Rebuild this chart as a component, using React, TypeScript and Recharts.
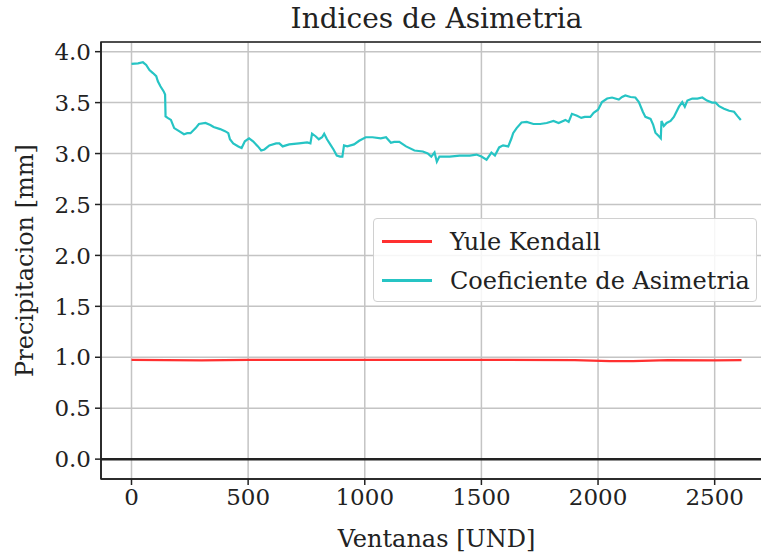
import {
  LineChart, Line, XAxis, YAxis, CartesianGrid, Legend,
  ReferenceLine, ReferenceArea,
} from 'recharts'

// Ventanas [UND] -> valores de cada indice
const coefX = [
  0, 28, 49, 63, 77, 92, 106, 113, 124, 138,
  144, 146, 155, 169, 183, 204, 225, 239, 253, 275,
  289, 317, 338, 352, 380, 401, 415, 422, 436, 458,
  472, 486, 504, 521, 542, 556, 570, 591, 620, 634,
  648, 676, 718, 753, 767, 774, 789, 803, 817, 826,
  838, 852, 866, 880, 894, 904, 911, 925, 954, 976,
  1004, 1033, 1069, 1091, 1112, 1126, 1148, 1177, 1213, 1249,
  1270, 1285, 1299, 1309, 1320, 1364, 1407, 1450, 1479, 1500,
  1522, 1543, 1558, 1576, 1593, 1615, 1629, 1636, 1651, 1672,
  1694, 1723, 1752, 1780, 1809, 1831, 1860, 1874, 1888, 1910,
  1928, 1943, 1967, 1981, 2000, 2017, 2039, 2060, 2074, 2089,
  2103, 2117, 2139, 2160, 2175, 2192, 2203, 2225, 2236, 2246,
  2261, 2269, 2272, 2282, 2294, 2311, 2325, 2347, 2361, 2372,
  2383, 2404, 2426, 2447, 2467, 2489, 2504, 2519, 2540, 2562,
  2583, 2597, 2612,
]
const coefY = [
  3.88, 3.886, 3.896, 3.87, 3.82, 3.79, 3.76, 3.71, 3.66, 3.61,
  3.58, 3.365, 3.35, 3.33, 3.25, 3.22, 3.19, 3.2, 3.2, 3.25,
  3.29, 3.3, 3.28, 3.26, 3.24, 3.22, 3.2, 3.14, 3.1, 3.07,
  3.055, 3.12, 3.15, 3.12, 3.07, 3.03, 3.04, 3.08, 3.1, 3.1,
  3.07, 3.09, 3.1, 3.11, 3.1, 3.195, 3.17, 3.14, 3.16, 3.195,
  3.14, 3.09, 3.04, 2.98, 2.97, 2.97, 3.08, 3.07, 3.09, 3.125,
  3.16, 3.16, 3.15, 3.16, 3.105, 3.115, 3.115, 3.07, 3.03, 3.02,
  3.0, 2.97, 3.01, 2.92, 2.97, 2.97, 2.98, 2.98, 2.99, 2.97,
  2.94, 3.01, 2.98, 3.06, 3.08, 3.07, 3.15, 3.2, 3.25, 3.305,
  3.31, 3.29, 3.29, 3.3, 3.32, 3.3, 3.33, 3.31, 3.39, 3.37,
  3.35, 3.36, 3.36, 3.4, 3.43, 3.505, 3.54, 3.55, 3.54, 3.53,
  3.555, 3.57, 3.555, 3.55, 3.505, 3.41, 3.36, 3.34, 3.285, 3.205,
  3.17, 3.15, 3.32, 3.27, 3.3, 3.32, 3.36, 3.46, 3.505, 3.46,
  3.52, 3.54, 3.54, 3.55, 3.52, 3.5, 3.5, 3.465, 3.44, 3.42,
  3.41, 3.37, 3.33,
]
const yuleX = [0, 300, 500, 1000, 1500, 1900, 2050, 2150, 2300, 2500, 2615]
const yuleY = [0.975, 0.97, 0.975, 0.975, 0.975, 0.972, 0.962, 0.962, 0.972, 0.97, 0.972]

const xTicks = [0, 500, 1000, 1500, 2000, 2500]
const yTicks = [0, 0.5, 1, 1.5, 2, 2.5, 3, 3.5, 4]
const seriesOrder = ['Yule Kendall', 'Coeficiente de Asimetria']

const FONT = '"DejaVu Serif", serif'
const RED = '#ff3030'
const CYAN = '#26c4c4'

const coefData = coefX.map((x, i) => ({ x, y: coefY[i] }))
const yuleData = yuleX.map((x, i) => ({ x, y: yuleY[i] }))

const X_DOMAIN: [number, number] = [-130.75, 2745.75]
const Y_DOMAIN: [number, number] = [-0.195, 4.095]

function LegendBox({ payload }: any) {
  const items = [...(payload || [])].sort(
    (a: any, b: any) => seriesOrder.indexOf(a.value) - seriesOrder.indexOf(b.value),
  )
  return (
    <div style={{
      width: 384, height: 84, boxSizing: 'border-box',
      border: '1px solid #d0d0d0', borderRadius: 4,
      backgroundColor: 'rgba(255,255,255,0.85)',
      fontFamily: FONT, fontSize: 24, color: '#222',
    }}>
      {items.map((p: any, i: number) => (
        <div key={i} style={{ display: 'flex', alignItems: 'center', height: 39, marginTop: i === 0 ? 3 : 0 }}>
          <div style={{ width: 50, height: 2.5, backgroundColor: p.color, marginLeft: 8, marginRight: 18 }} />
          <span>{p.value}</span>
        </div>
      ))}
    </div>
  )
}

function YLabel({ viewBox }: any) {
  const cx = viewBox.x + 25
  const cy = viewBox.y + viewBox.height / 2
  return (
    <text x={cx} y={cy} transform={`rotate(-90 ${cx} ${cy})`} textAnchor="middle"
      dominantBaseline="central" fontFamily={FONT} fontSize={24} fill="#222">
      Precipitacion [mm]
    </text>
  )
}

export default function App() {
  return (
    <div style={{ position: 'absolute', left: 0, top: 0, width: 761, height: 556, overflow: 'hidden', background: '#fff' }}>
      <div style={{
        position: 'absolute', left: 101, width: 671, top: 2, textAlign: 'center',
        fontFamily: FONT, fontSize: 28, color: '#222',
      }}>
        Indices de Asimetria
      </div>
      <LineChart width={790} height={556} margin={{ top: 42, right: 18, bottom: 0, left: 0 }}>
        <CartesianGrid stroke="#c4c4c4" strokeWidth={1.5} />
        <XAxis
          dataKey="x" type="number" domain={X_DOMAIN} ticks={xTicks} allowDataOverflow
          height={77} tickSize={6} tickMargin={4}
          axisLine={{ stroke: '#222', strokeWidth: 1.5 }}
          tickLine={{ stroke: '#222', strokeWidth: 1.5 }}
          tick={{ fontFamily: FONT, fontSize: 23, fill: '#222' }}
          label={{ value: 'Ventanas [UND]', position: 'insideBottom', offset: 9, fontFamily: FONT, fontSize: 24, fill: '#222' }}
        />
        <YAxis
          type="number" domain={Y_DOMAIN} ticks={yTicks} allowDataOverflow
          width={101} tickSize={6} tickMargin={4}
          tickFormatter={(v: number) => v.toFixed(1)}
          axisLine={{ stroke: '#222', strokeWidth: 1.5 }}
          tickLine={{ stroke: '#222', strokeWidth: 1.5 }}
          tick={{ fontFamily: FONT, fontSize: 23, fill: '#222' }}
          label={<YLabel />}
        />
        <ReferenceArea x1={X_DOMAIN[0]} x2={X_DOMAIN[1]} y1={Y_DOMAIN[0]} y2={Y_DOMAIN[1]}
          fill="none" stroke="#222" strokeWidth={1.5} ifOverflow="visible" />
        <ReferenceLine y={0} stroke="#222" strokeWidth={2.5} />
        <Line data={yuleData} dataKey="y" name="Yule Kendall" type="linear" stroke={RED}
          strokeWidth={2.2} dot={false} isAnimationActive={false} />
        <Line data={coefData} dataKey="y" name="Coeficiente de Asimetria" type="linear" stroke={CYAN}
          strokeWidth={2.2} dot={false} isAnimationActive={false} />
        <Legend
          layout="horizontal" verticalAlign="middle" align="center"
          content={<LegendBox />}
          wrapperStyle={{ left: 373, top: 218, width: 384, height: 84 }}
        />
      </LineChart>
    </div>
  )
}
